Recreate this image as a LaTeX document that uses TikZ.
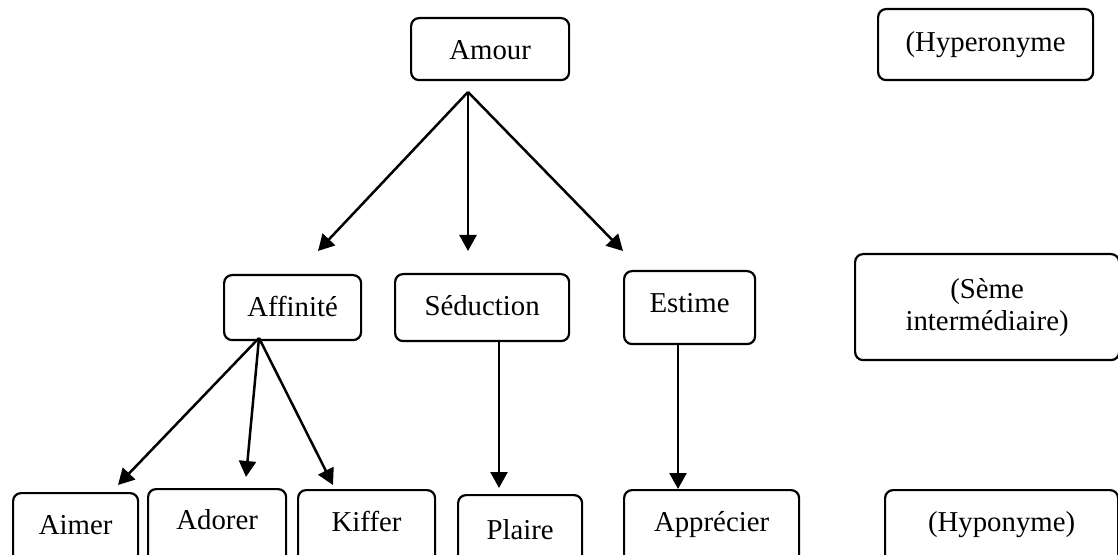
\documentclass[tikz,border=0pt]{standalone}
\usepackage{fontspec}
\setmainfont{Liberation Serif}
\usetikzlibrary{arrows.meta}
\begin{document}
\begin{tikzpicture}[x=0.5pt, y=-0.5pt,
  box/.style={draw, line width=1.1pt, rounded corners=4pt, anchor=north west,
    inner sep=0pt, font=\fontsize{14.4pt}{16pt}\selectfont, align=center},
  link/.style={line width=1.25pt, -{Triangle[length=8pt,width=8.5pt]}}]
\useasboundingbox (0,0) rectangle (1118,555);
\clip (0,0) rectangle (1118,555);

% top level
\node[box, minimum width=79pt, text height=20.5pt, text depth=10.5pt] (amour) at (410,17) {Amour};
\node[box, minimum width=107.5pt, text height=21pt, text depth=14.5pt] (hyper) at (877,8) {(Hyperonyme};

% middle level
\node[box, minimum width=68.5pt, text height=20.5pt, text depth=12pt] (affinite) at (223,274) {Affinité};
\node[box, minimum width=87pt, text height=20.5pt, text depth=13pt] (seduction) at (394,273) {Séduction};
\node[box, minimum width=65.5pt, text height=20.5pt, text depth=16pt] (estime) at (623,270) {Estime};
\node[box, minimum width=132pt, minimum height=53pt] (seme) at (854,253) {(Sème\\intermédiaire)};

% bottom level (boxes run past the lower edge)
\node[box, minimum width=62.5pt, text height=20.5pt, text depth=40pt] (aimer) at (12,492) {Aimer};
\node[box, minimum width=69pt, text height=20pt, text depth=40pt] (adorer) at (147,488) {Adorer};
\node[box, minimum width=68.5pt, text height=20.5pt, text depth=40pt] (kiffer) at (297,489) {Kiffer};
\node[box, minimum width=62pt, text height=22pt, text depth=40pt] (plaire) at (457,494) {Plaire};
\node[box, minimum width=87.5pt, text height=20.5pt, text depth=40pt] (apprecier) at (623,489) {Apprécier};
\node[box, minimum width=116.5pt, text height=20.5pt, text depth=40pt] (hypo) at (884,489) {(Hyponyme)};

% branching points and arrow tips
\coordinate (amourhub) at (468,92);
\coordinate (tipaff) at (318,251);
\coordinate (tipsed) at (468,251);
\coordinate (tipest) at (623,251);
\coordinate (affhub) at (259,338);
\coordinate (tipaim) at (118,485);
\coordinate (tipado) at (246,477);
\coordinate (tipkif) at (333,485);
\coordinate (sedfoot) at (499,340);
\coordinate (tippla) at (499,488);
\coordinate (estfoot) at (678,343);
\coordinate (tipapp) at (678,489);

% connectors
\draw[link] (amourhub) -- (tipaff);
\draw[link] (amourhub) -- (tipsed);
\draw[link] (amourhub) -- (tipest);
\draw[link] (affhub) -- (tipaim);
\draw[link] (affhub) -- (tipado);
\draw[link] (affhub) -- (tipkif);
\draw[link] (sedfoot) -- (tippla);
\draw[link] (estfoot) -- (tipapp);
\end{tikzpicture}
\end{document}
